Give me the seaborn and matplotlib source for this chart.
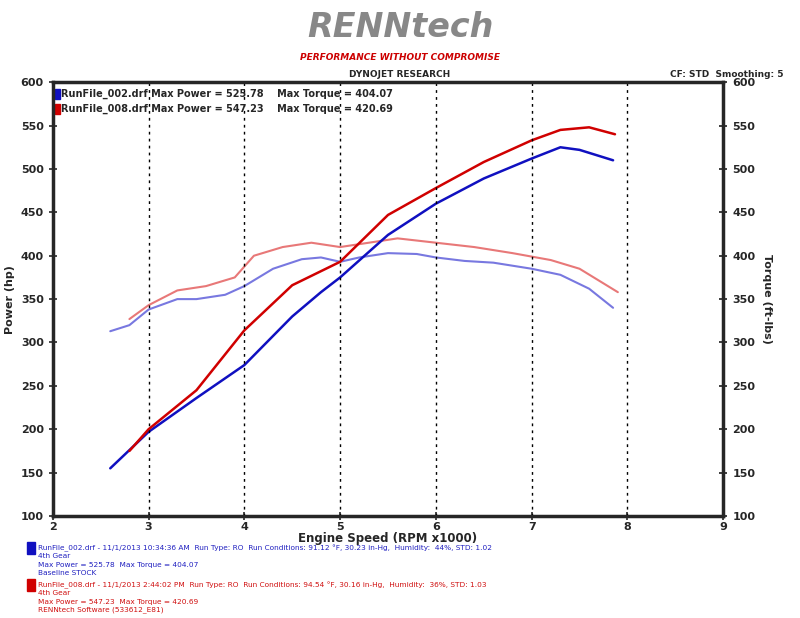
import matplotlib
matplotlib.use("Agg")
import matplotlib.pyplot as plt
import seaborn as sns
import pandas as pd

sns.set_theme(style="white")
plt.rcParams['font.family'] = ['DejaVu Sans']

rpm_p_blue = [2.6, 3.0, 3.5, 4.0, 4.5, 4.8, 5.0, 5.5, 6.0, 6.5, 7.0, 7.3, 7.5, 7.85]
pow_blue = [155, 197, 236, 274, 330, 358, 375, 424, 460, 489, 512, 525, 522, 510]
rpm_p_red = [2.8, 3.0, 3.5, 4.0, 4.5, 5.0, 5.5, 6.0, 6.5, 7.0, 7.3, 7.6, 7.87]
pow_red = [175, 200, 245, 314, 366, 393, 447, 478, 508, 533, 545, 548, 540]
rpm_t_blue = [2.6, 2.8, 3.0, 3.3, 3.5, 3.8, 4.0, 4.3, 4.6, 4.8, 5.0, 5.2, 5.5, 5.8, 6.0, 6.3, 6.6, 7.0, 7.3, 7.6, 7.85]
tq_blue = [313, 320, 338, 350, 350, 355, 365, 385, 396, 398, 393, 398, 403, 402, 398, 394, 392, 385, 378, 362, 340]
rpm_t_red = [2.8, 3.0, 3.3, 3.6, 3.9, 4.1, 4.4, 4.7, 5.0, 5.3, 5.6, 6.0, 6.4, 6.8, 7.2, 7.5, 7.9]
tq_red = [327, 343, 360, 365, 375, 400, 410, 415, 410, 415, 420, 415, 410, 403, 395, 385, 358]

fig = plt.figure(figsize=(8, 6.18), dpi=100)
ax = fig.add_axes([0.066, 0.165, 0.838, 0.702])

sns.lineplot(x=rpm_t_blue, y=tq_blue, ax=ax, color="#7878e0", lw=1.5)
sns.lineplot(x=rpm_t_red, y=tq_red, ax=ax, color="#e87878", lw=1.5)
sns.lineplot(x=rpm_p_blue, y=pow_blue, ax=ax, color="#1010c0", lw=1.8)
sns.lineplot(x=rpm_p_red, y=pow_red, ax=ax, color="#d00000", lw=1.8)

ax.set_xlim(2, 9)
ax.set_ylim(100, 600)
ax.set_xticks(range(2, 10))
ax.set_yticks(range(100, 601, 50))
for x in range(3, 9):
    ax.axvline(x, color="black", ls=(0, (2, 3)), lw=1)
for s in ax.spines.values():
    s.set_linewidth(2.5)
ax.tick_params(axis='both', labelsize=8, direction='inout', length=6, width=1.2)
for t in ax.get_xticklabels() + ax.get_yticklabels():
    t.set_fontweight('bold')
ax.set_xticks([2 + i * 0.2 for i in range(36)], minor=True)
ax.tick_params(axis='x', which='minor', direction='inout', length=5, width=1.2)
ax.tick_params(axis='y', which='both', left=True, right=True)
ax.tick_params(axis='x', bottom=True, pad=1)
ax2 = ax.twinx()
ax2.set_ylim(100, 600)
ax2.set_yticks(range(100, 601, 50))
ax2.tick_params(labelsize=8, direction='inout', length=6)
for t in ax2.get_yticklabels():
    t.set_fontweight('bold')
ax2.set_ylabel("Torque (ft-lbs)", fontsize=8, fontweight='bold', rotation=270, labelpad=12)
ax.set_ylabel("Power (hp)", fontsize=8, fontweight='bold')
ax.set_xlabel("Engine Speed (RPM x1000)", fontsize=8.5, fontweight='bold')
ax.xaxis.set_label_coords(0.5, -0.037)

fig.text(0.5, 0.876, "DYNOJET RESEARCH", ha='center', fontsize=6.5, fontweight='bold')
fig.text(0.98, 0.876, "CF: STD  Smoothing: 5", ha='right', fontsize=6.5, fontweight='bold')
fig.text(0.5, 0.955, "RENNtech", ha='center', va='center', fontsize=24, fontweight='bold',
         style='italic', color="#888888")
fig.text(0.5, 0.907, "PERFORMANCE WITHOUT COMPROMISE", ha='center', va='center', fontsize=6.5,
         style='italic', color="#cc0000", fontweight='bold')

ax.text(0.012, 0.985, "RunFile_002.drf Max Power = 525.78    Max Torque = 404.07",
        transform=ax.transAxes, fontsize=7, fontweight='bold', va='top')
ax.text(0.012, 0.95, "RunFile_008.drf Max Power = 547.23    Max Torque = 420.69",
        transform=ax.transAxes, fontsize=7, fontweight='bold', va='top')
ax.add_patch(plt.Rectangle((0.003, 0.962), 0.008, 0.022, transform=ax.transAxes, color="#1010c0"))
ax.add_patch(plt.Rectangle((0.003, 0.927), 0.008, 0.022, transform=ax.transAxes, color="#d00000"))

blue_lines = ["RunFile_002.drf - 11/1/2013 10:34:36 AM  Run Type: RO  Run Conditions: 91.12 \u00b0F, 30.23 in-Hg,  Humidity:  44%, STD: 1.02",
              "4th Gear", "Max Power = 525.78  Max Torque = 404.07", "Baseline STOCK"]
red_lines = ["RunFile_008.drf - 11/1/2013 2:44:02 PM  Run Type: RO  Run Conditions: 94.54 \u00b0F, 30.16 in-Hg,  Humidity:  36%, STD: 1.03",
             "4th Gear", "Max Power = 547.23  Max Torque = 420.69", "RENNtech Software (533612_E81)"]
y0 = 1 - 548 / 618
for i, l in enumerate(blue_lines):
    fig.text(0.048, y0 - i * 0.0135, l, fontsize=5.3, color="#2020c0", va='center')
y1 = 1 - 585 / 618
for i, l in enumerate(red_lines):
    fig.text(0.048, y1 - i * 0.0135, l, fontsize=5.3, color="#d01010", va='center')
fig.patches.append(plt.Rectangle((0.034, y0 - 0.009), 0.01, 0.018, transform=fig.transFigure, color="#1010c0"))
fig.patches.append(plt.Rectangle((0.034, y1 - 0.009), 0.01, 0.018, transform=fig.transFigure, color="#d00000"))

fig.savefig("out.png", dpi=100)
